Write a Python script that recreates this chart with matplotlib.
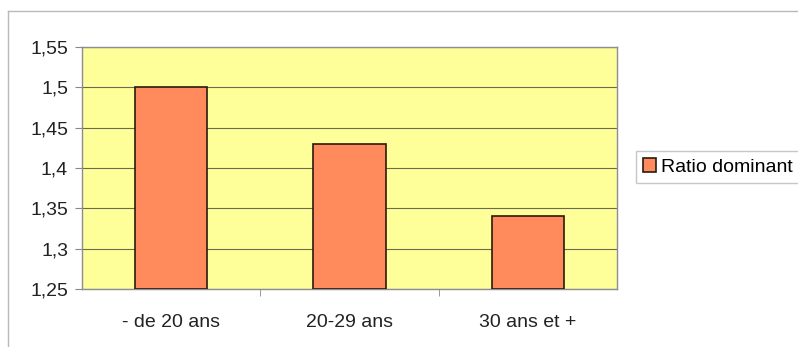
import numpy as np
import matplotlib.pyplot as plt

categories = ['- de 20 ans', '20-29 ans', '30 ans et +']
ratio = [1.50, 1.43, 1.34]
yticks = [1.25, 1.3, 1.35, 1.4, 1.45, 1.5, 1.55]
ytick_labels = ['1,25', '1,3', '1,35', '1,4', '1,45', '1,5', '1,55']

plt.rcParams['font.family'] = ['Liberation Sans', 'DejaVu Sans']

fig = plt.figure(figsize=(7.98, 3.47), dpi=100)
ax = fig.add_axes([82/798, 1 - 289/347, (617-82)/798, (289-47)/347])

# chart frame (thin grey border, top and left only visible)
fig.add_artist(plt.Line2D([8/798, 1], [1 - 11/347, 1 - 11/347], color='#b8b8c0', lw=1))
fig.add_artist(plt.Line2D([8/798, 8/798], [0, 1 - 11/347], color='#b8b8c0', lw=1))

ax.set_facecolor('#ffff99')
x = np.arange(len(categories))
bars = ax.bar(x, [v - 1.25 for v in ratio], bottom=1.25, width=0.405,
              color='#ff8a5c', edgecolor='#2a1a10', linewidth=1.2, zorder=3,
              label='Ratio dominant')

ax.set_ylim(1.25, 1.55)
ax.set_xlim(-0.5, 2.5)
ax.set_yticks(yticks)
ax.set_yticklabels(ytick_labels, fontsize=14, color='#222222')
ax.set_xticks(x)
ax.set_xticklabels(categories, fontsize=14, color='#222222')
ax.tick_params(axis='x', length=0, pad=18)
ax.tick_params(axis='y', length=5, direction='out', color='#888888', pad=5)
ax.set_xticks([0.5, 1.5], minor=True)
ax.tick_params(axis='x', which='minor', length=5, direction='out', color='#888888')

ax.grid(axis='y', color='#6b6b50', lw=0.8, zorder=1)
for side in ['top', 'right', 'left', 'bottom']:
    ax.spines[side].set_color('#8c8c96')
    ax.spines[side].set_linewidth(1)

leg = fig.legend(handles=[bars], labels=['Ratio dominant'], loc='center left',
                 bbox_to_anchor=(636/798, 1 - 167/347), fontsize=14,
                 frameon=True, fancybox=False, handlelength=0.7, handleheight=0.7,
                 handletextpad=0.25, borderpad=0.35, borderaxespad=0)
leg.get_frame().set_edgecolor('#b8b8c0')
leg.get_frame().set_linewidth(1)

fig.savefig('out.png', dpi=100)
